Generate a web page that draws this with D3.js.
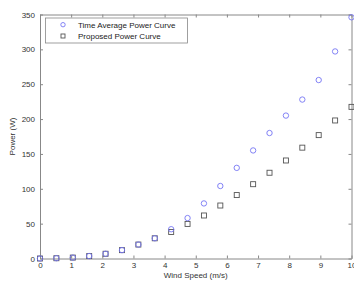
<!DOCTYPE html>
<html><head><meta charset="utf-8">
<script src="https://cdn.jsdelivr.net/npm/d3@7"></script>
<style>body{margin:0;background:#fff}svg{display:block}text{font-family:"Liberation Sans",Arial,sans-serif}</style>
</head><body>
<script>
const windSpeed = [0,0.526,1.053,1.579,2.105,2.632,3.158,3.684,4.211,4.737,5.263,5.789,6.316,6.842,7.368,7.895,8.421,8.947,9.474,10];
const timeAvgPower = [0,0.4,1.3,3.5,6.8,12,20,29,42,58,79,104,130,155,180,205,228,256,297,346];
const proposedPower = [0,0.4,1.3,3.5,6.8,12,20,29,38,49.6,61.7,76,91,106.6,123,140.6,159,177,198,217.5];
const xTicks = [0,1,2,3,4,5,6,7,8,9,10];
const yTicks = [0,50,100,150,200,250,300,350];
const seriesNames = ["Time Average Power Curve","Proposed Power Curve"];

const W=354,H=282;
const m={l:40,r:351.5,t:14.5,b:258.5};
const svg=d3.select("body").append("svg").attr("width",W).attr("height",H);
const x=d3.scaleLinear().domain([0,10]).range([m.l,m.r]);
const y=d3.scaleLinear().domain([0,350]).range([m.b,m.t]);
const axisCol="#888", txtCol="#333";

// axes
const gx=svg.append("g").attr("transform",`translate(0,${m.b})`)
  .call(d3.axisBottom(x).tickValues(xTicks).tickSizeInner(-3).tickSizeOuter(0).tickPadding(5));
const gxt=svg.append("g").attr("transform",`translate(0,${m.t})`)
  .call(d3.axisTop(x).tickValues(xTicks).tickSizeInner(-3).tickSizeOuter(0).tickFormat(""));
const gy=svg.append("g").attr("transform",`translate(${m.l},0)`)
  .call(d3.axisLeft(y).tickValues(yTicks).tickSizeInner(-3).tickSizeOuter(0).tickPadding(5));
const gyr=svg.append("g").attr("transform",`translate(${m.r},0)`)
  .call(d3.axisRight(y).tickValues(yTicks).tickSizeInner(-3).tickSizeOuter(0).tickFormat(""));
[gx,gxt,gy,gyr].forEach(g=>{
  g.selectAll("path,line").attr("stroke",axisCol);
  g.selectAll("text").attr("fill",txtCol).style("font-size","8px");
});
gx.selectAll("text").attr("dy","0.6em");

// labels
svg.append("text").attr("x",(m.l+m.r)/2).attr("y",278).attr("text-anchor","middle")
  .attr("fill",txtCol).style("font-size","8px").text("Wind Speed (m/s)");
svg.append("text").attr("transform",`translate(15,${(m.t+m.b)/2}) rotate(-90)`).attr("text-anchor","middle")
  .attr("fill",txtCol).style("font-size","8px").text("Power (W)");

// data
const clip=svg.append("defs").append("clipPath").attr("id","c").append("rect")
  .attr("x",m.l-4).attr("y",m.t-4).attr("width",m.r-m.l+4+2.5).attr("height",m.b-m.t+8);
const gp=svg.append("g").attr("clip-path","url(#c)");
gp.selectAll("rect.sq").data(windSpeed).join("rect").attr("class","sq")
  .attr("x",(d)=>x(d)-2.5).attr("y",(d,i)=>y(proposedPower[i])-2.5).attr("width",5).attr("height",5)
  .attr("fill","none").attr("stroke","#555").attr("stroke-width",0.9);
gp.selectAll("circle").data(windSpeed).join("circle")
  .attr("cx",d=>x(d)).attr("cy",(d,i)=>y(timeAvgPower[i])).attr("r",2.7)
  .attr("fill","none").attr("stroke","#7676f4").attr("stroke-width",0.9);

// legend
const lg=svg.append("g");
lg.append("rect").attr("x",45.5).attr("y",18).attr("width",142).attr("height",25)
  .attr("fill","#fff").attr("stroke","#888").attr("stroke-width",0.8);
lg.append("circle").attr("cx",63).attr("cy",24.7).attr("r",2.2).attr("fill","none").attr("stroke","#7676f4").attr("stroke-width",0.9);
lg.append("rect").attr("x",61).attr("y",34).attr("width",4).attr("height",4).attr("fill","none").attr("stroke","#555").attr("stroke-width",0.9);
lg.selectAll("text").data(seriesNames).join("text").attr("x",78).attr("y",(d,i)=>27.5+i*11.5)
  .attr("fill","#222").style("font-size","8px").text(d=>d);
</script>
</body></html>
